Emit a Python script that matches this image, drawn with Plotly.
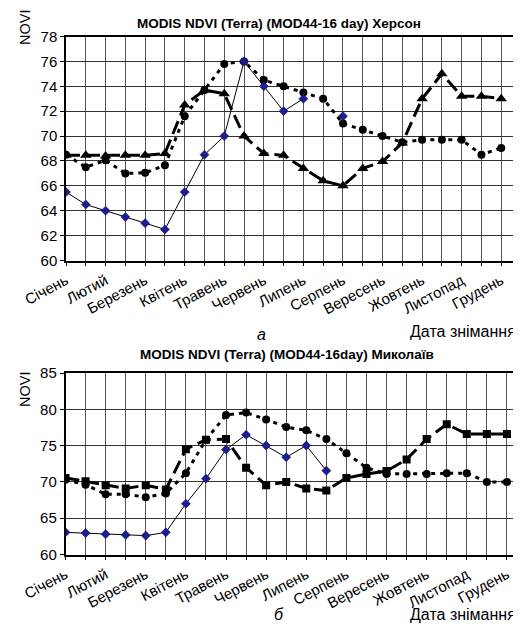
import plotly.graph_objects as go

W, H = 521, 627

months = ["Січень", "Лютий", "Березень", "Квітень", "Травень", "Червень",
          "Липень", "Серпень", "Вересень", "Жовтень", "Листопад", "Грудень"]
periods = list(range(23))  # 16-day composites

# Херсон
kh_diamond = [65.5, 64.5, 64.0, 63.5, 63.0, 62.5, 65.5, 68.5, 70.0, 76.0, 74.0, 72.0, 73.0,
              None, 71.6, None, None, None, None, None, None, None, None]
kh_circle = [68.5, 67.5, 68.05, 67.0, 67.05, 67.65, 71.6, 73.7, 75.8, 76.0, 74.5, 74.0, 73.5,
             73.0, 71.0, 70.5, 70.0, 69.5, 69.7, 69.7, 69.7, 68.5, 69.05]
kh_triangle = [68.45, 68.45, 68.4, 68.45, 68.45, 68.6, 72.5, 73.7, 73.4, 70.0, 68.6, 68.45, 67.4,
               66.4, 66.0, 67.4, 67.95, 69.45, 73.0, 75.0, 73.2, 73.2, 73.0]

# Миколаїв
my_diamond = [63.05, 62.95, 62.8, 62.7, 62.6, 63.05, 67.0, 70.45, 74.45, 76.5, 75.0, 73.4, 75.0,
              71.55, None, None, None, None, None, None, None, None, None]
my_circle = [70.3, 69.6, 68.3, 68.3, 67.9, 68.4, 71.2, 75.8, 79.2, 79.55, 78.6, 77.55, 77.1,
             75.9, 73.95, 71.95, 71.1, 71.1, 71.1, 71.2, 71.2, 70.0, 70.0]
my_square = [70.55, 70.1, 69.55, 69.1, 69.55, 68.95, 74.5, 75.8, 75.9, 71.95, 69.55, 70.0, 69.1,
             68.8, 70.55, 71.1, 71.5, 73.1, 75.9, 77.95, 76.6, 76.6, 76.6]

tick_vals = list(range(24))
tick_text = [months[i // 2] if i % 2 == 0 and i // 2 < 12 else "" for i in tick_vals]

FONT = "Liberation Sans, Arial, sans-serif"
fig = go.Figure()


def add_series(xa, ya, diamond, circle, other, other_symbol, other_size):
    fig.add_trace(go.Scatter(x=periods, y=other, xaxis=xa, yaxis=ya, mode="lines+markers",
                             line=dict(color="black", width=3, dash="14px,6px"),
                             marker=dict(symbol=other_symbol, size=other_size, color="black"),
                             showlegend=False))
    fig.add_trace(go.Scatter(x=periods, y=circle, xaxis=xa, yaxis=ya, mode="lines+markers",
                             line=dict(color="black", width=3, dash="4px,5px"),
                             marker=dict(symbol="circle", size=8, color="black"),
                             showlegend=False))
    fig.add_trace(go.Scatter(x=periods, y=diamond, xaxis=xa, yaxis=ya, mode="lines+markers",
                             connectgaps=False,
                             line=dict(color="black", width=1),
                             marker=dict(symbol="diamond", size=7, color="#1c1c96",
                                         line=dict(color="#101050", width=0.5)),
                             showlegend=False))


add_series("x", "y", kh_diamond, kh_circle, kh_triangle, "triangle-up", 10)
add_series("x2", "y2", my_diamond, my_circle, my_square, "square", 8)


def px_x(p):
    return p / W


def px_y(p):
    return 1 - p / H


xcommon = dict(range=[0, 23], tickmode="array", tickvals=tick_vals, ticktext=tick_text,
               tickangle=-28, ticks="outside", ticklen=4, tickcolor="black",
               showgrid=True, gridcolor="#555555", gridwidth=1,
               showline=True, linecolor="black", linewidth=1.5, mirror=True,
               zeroline=False, tickfont=dict(family=FONT, size=15, color="black"),
               automargin=False)
ycommon = dict(ticks="outside", ticklen=4, tickcolor="black",
               showgrid=True, gridcolor="#333333", gridwidth=1,
               showline=True, linecolor="black", linewidth=1.5, mirror=True,
               zeroline=False, tickfont=dict(family=FONT, size=15, color="black"),
               automargin=False)

fig.update_layout(
    width=W, height=H, margin=dict(l=0, r=0, t=0, b=0),
    paper_bgcolor="white", plot_bgcolor="white",
    xaxis=dict(domain=[px_x(58), px_x(513)], anchor="y", **xcommon),
    yaxis=dict(domain=[px_y(252.5), px_y(28.5)], anchor="x", range=[60, 78], dtick=2, **ycommon),
    xaxis2=dict(domain=[px_x(57.5), px_x(519)], anchor="y2", **xcommon),
    yaxis2=dict(domain=[px_y(546.5), px_y(365)], anchor="x2", range=[60, 85], dtick=5, **ycommon),
)

annots = [
    dict(text="<b>MODIS NDVI (Terra) (MOD44-16 day) Херсон</b>", x=271, y=15, size=13.5),
    dict(text="<b>MODIS NDVI (Terra) (MOD44-16day) Миколаїв</b>", x=279, y=346, size=13.5),
    dict(text="<i>а</i>", x=253, y=327, size=16),
    dict(text="Дата знімання", x=455, y=323, size=16),
    dict(text="<i>б</i>", x=271, y=606, size=16),
    dict(text="Дата знімання", x=455, y=606, size=16),
]
for a in annots:
    fig.add_annotation(text=a["text"], x=px_x(a["x"]), y=px_y(a["y"]), xref="paper", yref="paper",
                       showarrow=False, xanchor="center", yanchor="middle",
                       font=dict(family=FONT, size=a["size"], color="black"))

for ny in (20, 382):
    fig.add_annotation(text="NOVI", x=px_x(17), y=px_y(ny), xref="paper", yref="paper",
                       showarrow=False, textangle=-90, xanchor="center", yanchor="middle",
                       font=dict(family=FONT, size=14.5, color="black"))

fig.write_html("out.html")
